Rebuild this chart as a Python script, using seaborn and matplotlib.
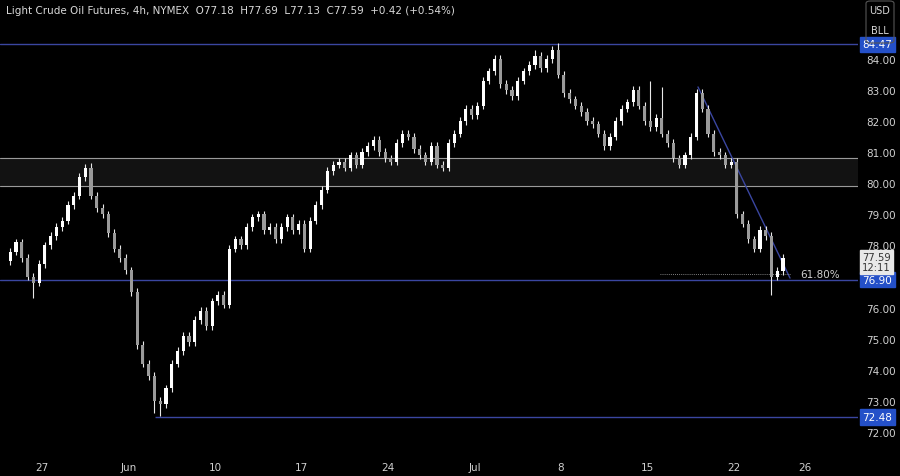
import numpy as np
import matplotlib
matplotlib.use("Agg")
import matplotlib.pyplot as plt
import seaborn as sns

closes = [
77.8,78.1,77.6, 77.0,76.8,77.4, 78.0,78.3,78.6, 78.8,79.3,79.6, 80.2,80.5,79.6,
79.2,79.0,78.4, 77.9,77.6,77.2, 76.5,74.8,74.2, 73.8,73.0,72.9, 73.4,74.2,74.6,
75.1,74.9,75.6, 75.9,75.4,76.2, 76.4,76.1,77.9, 78.2,78.0,78.6, 78.9,79.0,78.5,
78.6,78.2,78.6, 78.9,78.5,78.7, 77.9,78.8,79.3, 79.8,80.4,80.6, 80.7,80.5,80.9,
80.6,81.0,81.2, 81.4,81.0,80.8, 80.7,81.3,81.6, 81.5,81.1,80.9, 80.7,81.2,80.6,
80.5,81.3,81.6, 82.0,82.4,82.2, 82.5,83.3,83.6, 84.0,83.2,83.0, 82.8,83.3,83.6,
83.8,84.1,83.7, 84.0,84.3,83.5, 82.9,82.7,82.5, 82.3,82.0,81.9, 81.6,81.2,81.5,
82.0,82.4,82.6, 83.0,82.5,82.0, 81.8,82.1,81.6, 81.3,80.8,80.6, 80.9,81.5,82.9,
82.4,81.6,81.0, 80.9,80.6,80.7, 79.0,78.7,78.2, 77.9,78.5,78.3, 77.0,77.18,77.59]
first_open = 77.5
# notable wick extremes (candle index -> price)
extra_highs = {14: 80.65, 95: 84.5, 91: 84.3, 111: 83.3, 113: 83.1}
extra_lows = {4: 76.3, 26: 72.5, 25: 72.6, 132: 76.4}
tick_days = [0, 5, 10, 15, 20, 25, 30, 35, 40, 44.1]
tick_labels = ["27", "Jun", "10", "17", "24", "Jul", "8", "15", "22", "26"]
price_ticks = [72, 73, 74, 75, 76, 78, 79, 80, 81, 82, 83, 84]
levels = [84.47, 76.90, 72.48]
zone = (79.9, 80.8)

sns.set_theme(style="dark")
bg = "#000000"
fig = plt.figure(figsize=(9, 4.77), dpi=100, facecolor=bg)
ax = fig.add_axes([0, 22/477, 858/900, 455/477])
ax.set_facecolor(bg)

n = len(closes)
x = -2 + (np.arange(n) + 0.5) / 3
opens = np.array([first_open] + closes[:-1])
c = np.array(closes)
hi = np.maximum(opens, c) + 0.12
lo = np.minimum(opens, c) - 0.12
for k, v in extra_highs.items(): hi[k] = v
for k, v in extra_lows.items(): lo[k] = v
ax.vlines(x, lo, hi, color="#e8e8e8", lw=0.8, zorder=3)
up = c >= opens
body = np.maximum(np.abs(c - opens), 0.03)
ax.bar(x[up], body[up], bottom=np.minimum(opens, c)[up], width=0.18, color="#ffffff", zorder=4, lw=0)
ax.bar(x[~up], body[~up], bottom=np.minimum(opens, c)[~up], width=0.18, color="#9a9a9a", zorder=4, lw=0)

xmin, xmax = -42/17.3, (858-42)/17.3
ax.set_xlim(xmin, xmax)
ax.set_ylim(71.29, 85.93)

ax.axhspan(zone[0], zone[1], color="#121212", zorder=1)
for z in zone:
    ax.axhline(z, color="#9a9a9a", lw=0.8, zorder=2)
ax.axhline(levels[0], color="#3a46a0", lw=1, zorder=2)
ax.axhline(levels[1], color="#3a46a0", lw=1, zorder=2)
ax.hlines(levels[2], (155-42)/17.3, xmax, color="#3a46a0", lw=1, zorder=2)
ax.plot([(698-42)/17.3, (790-42)/17.3], [83.1, 76.95], color="#3a46a0", lw=1, zorder=2)
ax.hlines(77.07, (660-42)/17.3, (790-42)/17.3, color="#aaaaaa", lw=0.6, ls=(0, (1, 1.5)), zorder=2)
ax.text((800-42)/17.3, 77.07, "61.80%", color="#d0d0d0", fontsize=7.5, va="center")

ax.set_xticks(tick_days)
ax.set_xticklabels(tick_labels)
ax.yaxis.tick_right()
ax.set_yticks(price_ticks)
ax.set_yticklabels([f"{p:.2f}" for p in price_ticks])
ax.tick_params(colors="#d0d0d0", labelsize=7.5, length=0, pad=6)
for s in ax.spines.values():
    s.set_visible(False)
ax.grid(False)

def tag(y, txt, fc):
    ax.text(1.005, y, txt, transform=ax.get_yaxis_transform(), color="white", fontsize=7.5,
            va="center", ha="left", bbox=dict(boxstyle="square,pad=0.25", fc=fc, ec=fc), zorder=10, clip_on=False)
tag(levels[0], "84.47", "#2450c8")
tag(levels[1], "76.90", "#2450c8")
tag(levels[2], "72.48", "#2450c8")
ax.text(1.005, 77.47, "77.59\n12:11", transform=ax.get_yaxis_transform(), color="#333333", fontsize=7.2,
        va="center", ha="left", linespacing=1.05,
        bbox=dict(boxstyle="square,pad=0.2", fc="#e8e8e8", ec="#e8e8e8"), zorder=10, clip_on=False)

fig.text(6/900, 1-11/477, "Light Crude Oil Futures, 4h, NYMEX  O77.18  H77.69  L77.13  C77.59  +0.42 (+0.54%)",
         color="#d8d8d8", fontsize=7.5, va="center")
for yy, t in [(11, "USD"), (31, "BLL")]:
    fig.text(880/900, 1-yy/477, t, color="#d8d8d8", fontsize=7, ha="center", va="center")
fig.patches.append(matplotlib.patches.FancyBboxPatch((866/900, 1-44/477), 28/900, 42/477,
    boxstyle="round,pad=0,rounding_size=0.005", transform=fig.transFigure, fc="none", ec="#555555", lw=0.8))

fig.savefig("out.png", dpi=100, facecolor=bg)
